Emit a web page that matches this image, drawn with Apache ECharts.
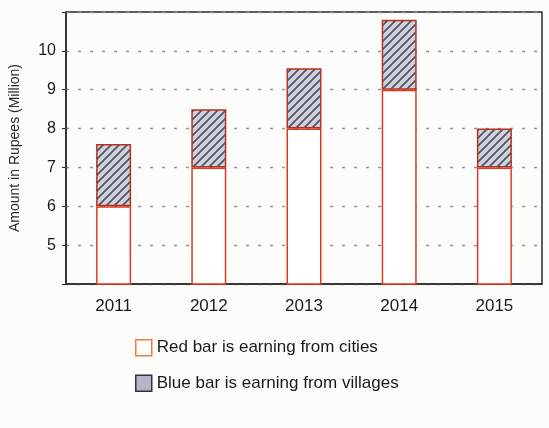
<!DOCTYPE html>
<html>
<head>
<meta charset="utf-8">
<script src="https://cdn.jsdelivr.net/npm/echarts@6/dist/echarts.min.js"></script>
<style>
html,body{margin:0;padding:0;background:#fcfcfb;}
#c{width:549px;height:428px;}
</style>
</head>
<body>
<div id="c"></div>
<script>
var years = ['2011', '2012', '2013', '2014', '2015'];
var cities = [6.0, 7.0, 8.0, 9.0, 7.0];
var villages = [1.6, 1.5, 1.55, 1.8, 1.0];
var yTicks = [5, 6, 7, 8, 9, 10];

function hatch() {
  var c = document.createElement('canvas');
  c.width = 8; c.height = 8;
  var g = c.getContext('2d');
  g.fillStyle = '#cfd1db';
  g.fillRect(0, 0, 8, 8);
  g.strokeStyle = '#4b4f60';
  g.lineWidth = 1.6;
  g.beginPath();
  g.moveTo(0, 8); g.lineTo(8, 0);
  g.moveTo(-2, 2); g.lineTo(2, -2);
  g.moveTo(6, 10); g.lineTo(10, 6);
  g.stroke();
  return c;
}

var chart = echarts.init(document.getElementById('c'));
var font = '"Liberation Sans", Arial, sans-serif';
chart.setOption({
  backgroundColor: '#fcfcfb',
  animation: false,
  textStyle: { fontFamily: font },
  grid: { left: 65, right: 7, top: 12, bottom: 144, show: true, borderColor: '#2a2a2a', borderWidth: 1.5, containLabel: false },
  xAxis: {
    type: 'category',
    data: years,
    axisLine: { lineStyle: { color: '#2a2a2a', width: 1.5 } },
    axisTick: { alignWithLabel: true, length: 3, lineStyle: { color: '#2a2a2a' } },
    axisLabel: { color: '#1a1a1a', fontSize: 17, margin: 14, fontFamily: font }
  },
  yAxis: {
    type: 'value',
    min: 4, max: 11, interval: 1,
    name: 'Amount in Rupees (Million)',
    nameLocation: 'middle',
    nameGap: 44,
    nameTextStyle: { color: '#2a2a2a', fontSize: 14, fontFamily: font },
    axisLine: { show: true, lineStyle: { color: '#2a2a2a', width: 1.5 } },
    axisTick: { show: true, length: 4, lineStyle: { color: '#2a2a2a' } },
    axisLabel: {
      color: '#1a1a1a', fontSize: 16, margin: 10, fontFamily: font,
      formatter: function (v) { return yTicks.indexOf(v) >= 0 ? String(v) : ''; }
    },
    splitLine: { show: true, lineStyle: { color: '#9a8f8f', type: [3, 9], width: 1.3 } }
  },
  legend: {
    orient: 'vertical',
    left: 130, top: 334,
    itemWidth: 16, itemHeight: 16, itemGap: 18,
    icon: 'rect',
    textStyle: { fontSize: 17, color: '#1a1a1a', fontFamily: font },
    data: [
      { name: 'Red bar is earning from cities', itemStyle: { color: '#ffffff', borderColor: '#ef7b3c', borderWidth: 1.5 } },
      { name: 'Blue bar is earning from villages', itemStyle: { color: '#b3b6c8', borderColor: '#333333', borderWidth: 1.5 } }
    ]
  },
  series: [
    {
      name: 'Red bar is earning from cities',
      type: 'bar', stack: 'a', barWidth: 35,
      data: cities,
      itemStyle: { color: '#ffffff', borderColor: '#e03a1e', borderWidth: 1.5 }
    },
    {
      name: 'Blue bar is earning from villages',
      type: 'bar', stack: 'a', barWidth: 35,
      data: villages,
      itemStyle: { color: { image: hatch(), repeat: 'repeat' }, borderColor: '#b8321e', borderWidth: 1.5 }
    }
  ]
});
</script>
</body>
</html>
